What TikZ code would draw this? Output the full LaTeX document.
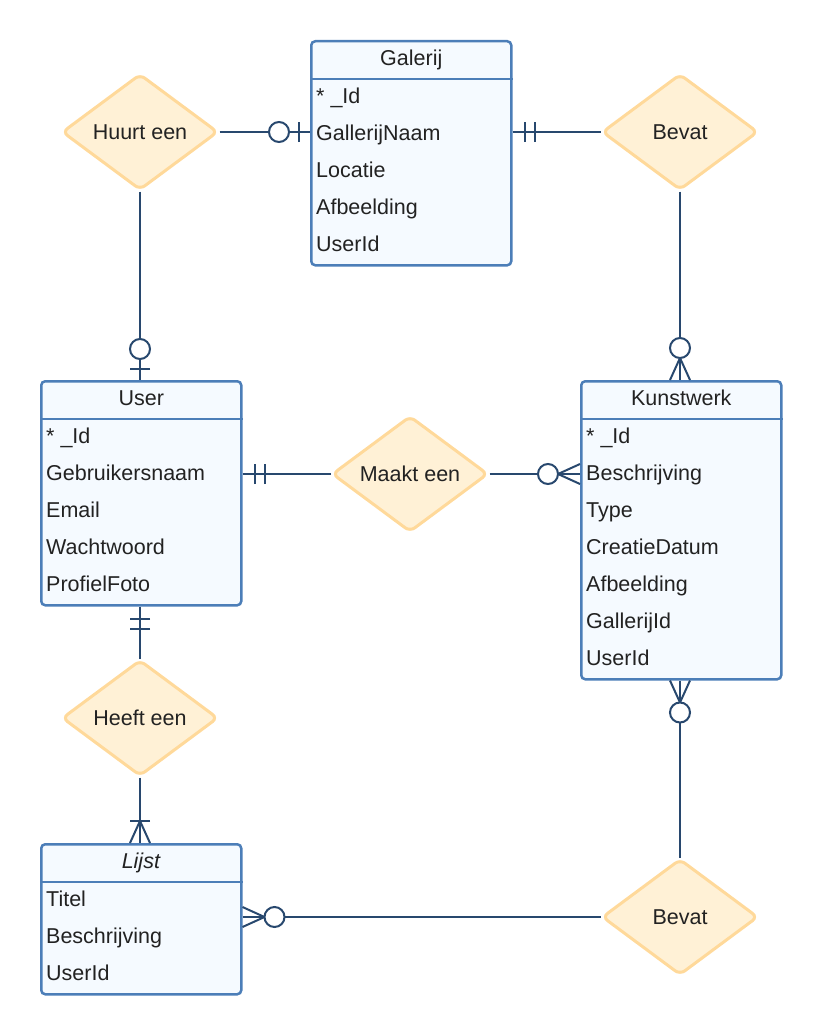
\documentclass[tikz,border=0pt]{standalone}
\usepackage{fontspec}
\setmainfont{Liberation Sans}
\usetikzlibrary{shapes.geometric,calc}
\definecolor{ebord}{HTML}{4C7EB8}
\definecolor{efill}{HTML}{F5FAFF}
\definecolor{dbord}{HTML}{FFD99A}
\definecolor{dfill}{HTML}{FFF1D6}
\definecolor{conn}{HTML}{28486E}
\definecolor{txt}{HTML}{222222}
\newcommand\erentity[5]{%
  \node[entity, minimum height=#3] (#1) at (#2) {};
  \draw[ebord, line width=2.5pt] ($(#1.north west)+(0,39)$) -- ($(#1.north east)+(0,39)$);
  \node[ertitle] (#1-t) at ($(#1.north)+(0,18)$) {#4};
  \foreach \f [count=\i] in {#5} {
    \pgfmathsetmacro\yy{39+17+(\i-1)*37}
    \node[erfield] (#1-f\i) at ($(#1.north west)+(6,\yy)$) {\f};
  }
}
\newcommand\erbar[4]{\draw[connline] ($(#1)+#2*(#3)+10*(#4)$) -- ($(#1)+#2*(#3)-10*(#4)$);}
\newcommand\ercirc[3]{\draw[connline,fill=white] ($(#1)+#2*(#3)$) circle[radius=10pt];}
\newcommand\erfoot[3]{\draw[connline] ($(#1)+10*(#3)$) -- ($(#1)+22*(#2)$) -- ($(#1)-10*(#3)$);}
\begin{document}
\begin{tikzpicture}[x=1pt,y=-1pt,
  entity/.style={draw=ebord, fill=efill, line width=2.5pt, rounded corners=4pt, inner sep=0pt, anchor=north west, minimum width=200pt},
  ertitle/.style={inner sep=0pt, text=txt, font=\fontsize{21.5}{26}\selectfont, text height=15.5pt, text depth=0pt},
  erfield/.style={inner sep=0pt, anchor=west, text=txt, font=\fontsize{21.5}{26}\selectfont, text height=15.5pt, text depth=0pt},
  rel/.style={diamond, draw=dbord, fill=dfill, line width=3pt, rounded corners=6pt, inner sep=0pt, minimum width=156pt, minimum height=116pt, aspect=1.35, text=txt, font=\fontsize{21.5}{26}\selectfont},
  connline/.style={draw=conn, line width=2pt}
]
\useasboundingbox (0,0) rectangle (820,1033);

\erentity{gal}{310,40}{224pt}{Galerij}{* \_Id,GallerijNaam,Locatie,Afbeelding,UserId}
\erentity{user}{40,380}{224pt}{User}{* \_Id,Gebruikersnaam,Email,Wachtwoord,ProfielFoto}
\erentity{kunst}{580,380}{298pt}{Kunstwerk}{* \_Id,Beschrijving,Type,CreatieDatum,Afbeelding,GallerijId,UserId}
\erentity{lijst}{40,843}{150pt}{\textit{Lijst}}{Titel,Beschrijving,UserId}

\node[rel] (huurt) at (140,132) {Huurt een};
\node[rel] (bevat1) at (680,132) {Bevat};
\node[rel] (maakt) at (410,474) {Maakt een};
\node[rel] (heeft) at (140,718) {Heeft een};
\node[rel] (bevat2) at (680,917) {Bevat};

% connectors
\draw[connline] (huurt.east) -- (huurt.east -| gal.west) coordinate (c1);
\draw[connline] (bevat1.west -| gal.east) coordinate (c2) -- (bevat1.west);
\draw[connline] (bevat1.south) -- (bevat1.south |- kunst.north) coordinate (c3);
\draw[connline] (huurt.south) -- (huurt.south |- user.north) coordinate (c4);
\draw[connline] (maakt.west -| user.east) coordinate (c5) -- (maakt.west);
\draw[connline] (maakt.east) -- (maakt.east -| kunst.west) coordinate (c6);
\draw[connline] (heeft.north |- user.south) coordinate (c7) -- (heeft.north);
\draw[connline] (heeft.south) -- (heeft.south |- lijst.north) coordinate (c8);
\draw[connline] (bevat2.north |- kunst.south) coordinate (c9) -- (bevat2.north);
\draw[connline] (bevat2.west -| lijst.east) coordinate (c10) -- (bevat2.west);

% c1: zero-or-one at Galerij (dir -x)
\erbar{c1}{11}{-1,0}{0,1}
\ercirc{c1}{31}{-1,0}
% c2: mandatory one at Galerij (dir +x)
\erbar{c2}{12}{1,0}{0,1}
\erbar{c2}{22}{1,0}{0,1}
% c3: zero-or-many at Kunstwerk (dir up)
\erfoot{c3}{0,-1}{1,0}
\ercirc{c3}{32}{0,-1}
% c4: zero-or-one at User (dir up)
\erbar{c4}{11}{0,-1}{1,0}
\ercirc{c4}{31}{0,-1}
% c5: mandatory one at User (dir +x)
\erbar{c5}{12}{1,0}{0,1}
\erbar{c5}{22}{1,0}{0,1}
% c6: zero-or-many at Kunstwerk (dir -x)
\erfoot{c6}{-1,0}{0,1}
\ercirc{c6}{32}{-1,0}
% c7: mandatory one at User bottom (dir down)
\erbar{c7}{12}{0,1}{1,0}
\erbar{c7}{22}{0,1}{1,0}
% c8: one-or-many at Lijst (dir up)
\erfoot{c8}{0,-1}{1,0}
\erbar{c8}{22}{0,-1}{1,0}
% c9: zero-or-many at Kunstwerk bottom (dir down)
\erfoot{c9}{0,1}{1,0}
\ercirc{c9}{32}{0,1}
% c10: zero-or-many at Lijst (dir +x)
\erfoot{c10}{1,0}{0,1}
\ercirc{c10}{32}{1,0}
\end{tikzpicture}
\end{document}
